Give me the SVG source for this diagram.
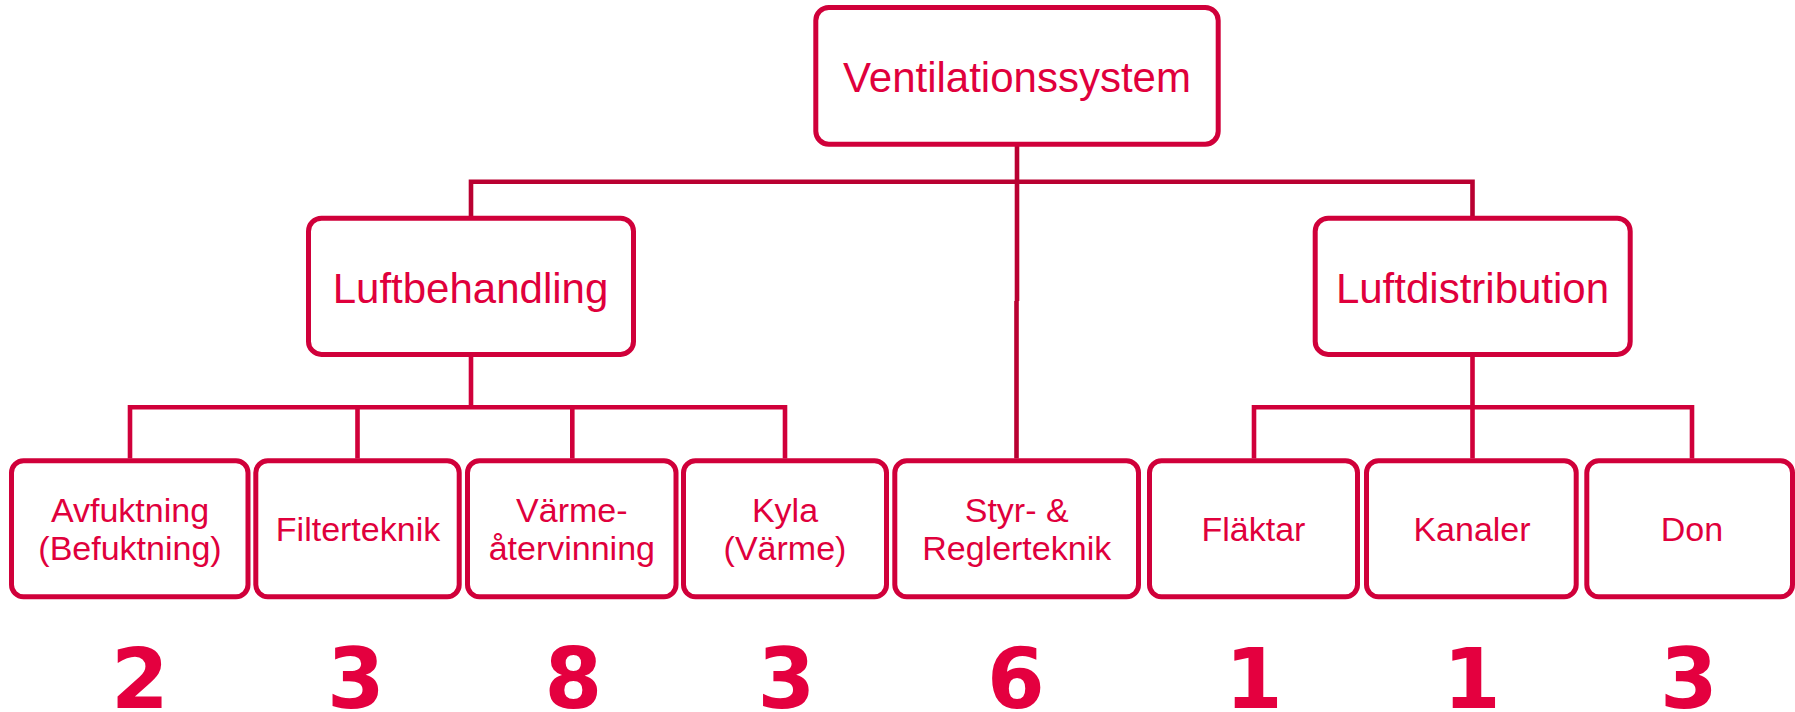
<svg xmlns="http://www.w3.org/2000/svg" width="1795" height="712" viewBox="0 0 1795 712">
<style>
.box{fill:#fff;stroke:#d0003a;stroke-width:5}
.t{font-family:"Liberation Sans",Arial,sans-serif;fill:#e0003c;text-anchor:middle}
.big{font-size:42px}
.sm{font-size:34px}
.num{font-family:"DejaVu Sans",Verdana,sans-serif;font-weight:bold;font-size:83px;fill:#e4003f;text-anchor:middle}
.c1{fill:none;stroke:#b90031;stroke-width:4.6}
.c2{fill:none;stroke:#d0003a;stroke-width:4.6}
</style>
<rect width="1795" height="712" fill="#fff"/>
<g id="connectors">
<path class="c1" d="M1017,146 V181.7 M471,216 V181.7 H1472.5 V216"/>
<path class="c1" d="M1017,181.7 V301 M1016.5,301 V458.5"/>
<path class="c2" d="M471,356.5 V407.3 M130,458.5 V407.3 H785 V458.5 M357.5,458.5 V407.3 M572.3,458.5 V407.3"/>
<path class="c2" d="M1472.5,356.5 V407.3 M1254,458.5 V407.3 H1692 V458.5 M1472.5,458.5 V407.3"/>
</g>
<g id="n-ventilationssystem">
<rect class="box" x="815.8" y="7.5" width="402.4" height="136.7" rx="13"/>
<text class="t big" x="1017" y="91.7">Ventilationssystem</text>
</g>
<g id="n-luftbehandling">
<rect class="box" x="308.5" y="218.2" width="325" height="136.2" rx="13"/>
<text class="t big" x="470.5" y="302.7">Luftbehandling</text>
</g>
<g id="n-luftdistribution">
<rect class="box" x="1315.2" y="218.2" width="315" height="136.2" rx="13"/>
<text class="t big" x="1472.5" y="302.7">Luftdistribution</text>
</g>
<g id="n-avfuktning">
<rect class="box" x="11.5" y="460.8" width="236.5" height="136" rx="12"/>
<text class="t sm" x="130" y="521.7">Avfuktning</text>
<text class="t sm" x="130" y="560">(Befuktning)</text>
<text class="num" x="140" y="707.7">2</text>
</g>
<g id="n-filterteknik">
<rect class="box" x="255.8" y="460.8" width="203.4" height="136" rx="12"/>
<text class="t sm" x="358" y="541">Filterteknik</text>
<text class="num" x="356" y="707.7">3</text>
</g>
<g id="n-varmeatervinning">
<rect class="box" x="467.5" y="460.8" width="208.5" height="136" rx="12"/>
<text class="t sm" x="571.8" y="521.7">Värme-</text>
<text class="t sm" x="571.8" y="560">återvinning</text>
<text class="num" x="573.3" y="707.7">8</text>
</g>
<g id="n-kyla">
<rect class="box" x="683.5" y="460.8" width="203" height="136" rx="12"/>
<text class="t sm" x="785" y="521.7">Kyla</text>
<text class="t sm" x="785" y="560">(Värme)</text>
<text class="num" x="786.5" y="707.7">3</text>
</g>
<g id="n-styr">
<rect class="box" x="894.8" y="460.8" width="243.7" height="136" rx="12"/>
<text class="t sm" x="1016.7" y="521.7">Styr- &amp;</text>
<text class="t sm" x="1016.7" y="560">Reglerteknik</text>
<text class="num" x="1016" y="707.7">6</text>
</g>
<g id="n-flaktar">
<rect class="box" x="1149.5" y="460.8" width="208" height="136" rx="12"/>
<text class="t sm" x="1253.5" y="541">Fläktar</text>
<text class="num" x="1254" y="707.7">1</text>
</g>
<g id="n-kanaler">
<rect class="box" x="1366.5" y="460.8" width="209.7" height="136" rx="12"/>
<text class="t sm" x="1472" y="541">Kanaler</text>
<text class="num" x="1472" y="707.7">1</text>
</g>
<g id="n-don">
<rect class="box" x="1586.8" y="460.8" width="205.7" height="136" rx="12"/>
<text class="t sm" x="1692" y="541">Don</text>
<text class="num" x="1689" y="707.7">3</text>
</g>
</svg>
